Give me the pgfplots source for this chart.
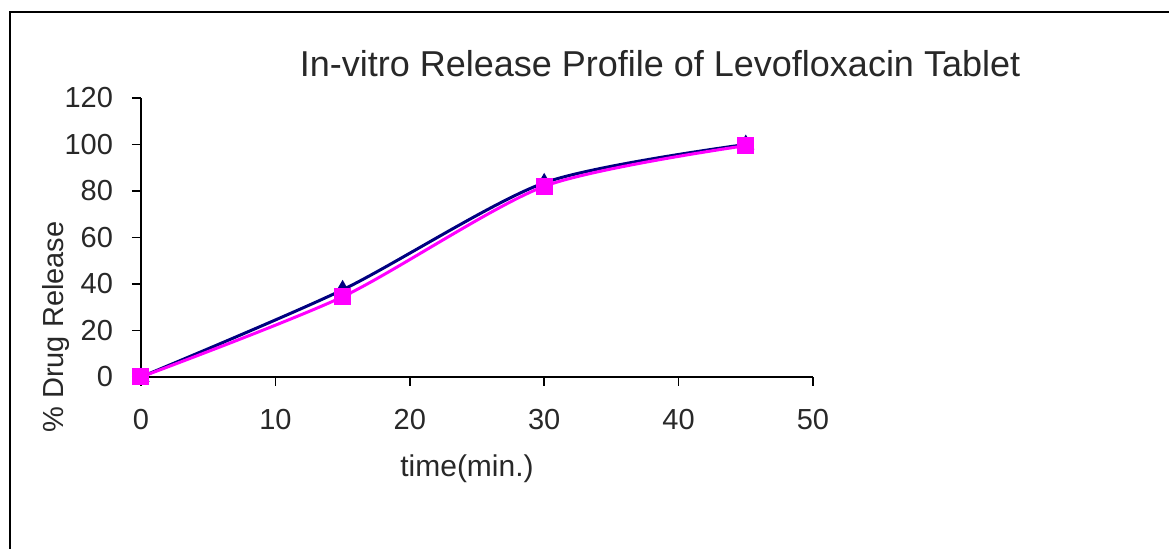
\documentclass[border=0pt]{standalone}
\usepackage{pgfplots}
\pgfplotsset{compat=1.18}
\usepackage{fontspec}
\setmainfont{Liberation Sans}
\definecolor{navyline}{RGB}{0,0,128}
\definecolor{magline}{RGB}{255,0,255}
\definecolor{txt}{RGB}{40,40,40}
\begin{document}
\begin{tikzpicture}[x=0.5pt,y=0.5pt]
\path[use as bounding box] (0,0) rectangle (1169,549);
\draw[line width=1pt] (10,0) -- (10,537) -- (1169,537);
\node[font=\fontsize{18}{21}\selectfont, text=txt] at (660,485) {In-vitro Release Profile of Levofloxacin Tablet};
\node[font=\fontsize{15}{17}\selectfont, text=txt] at (467,80) {time(min.)};
\node[font=\fontsize{14.5}{17}\selectfont, text=txt, rotate=90] at (56,222) {\% Drug Release};
\begin{axis}[
  at={(70.5pt,86pt)}, anchor=south west,
  scale only axis, width=336pt, height=139.5pt,
  xmin=0, xmax=50, ymin=0, ymax=120,
  xtick={0,10,...,50}, ytick={0,20,...,120},
  axis lines=left,
  x axis line style={-, line width=1.2pt},
  y axis line style={-, line width=0.8pt},
  tick align=outside,
  major tick length=4.5pt,
  every tick/.style={black, line width=0.8pt},
  tick label style={font=\fontsize{14.5}{17}\selectfont, text=txt},
  /pgf/number format/assume math mode=true,
  xticklabel style={yshift=-8pt},
  yticklabel style={xshift=-6pt},
  clip=false,
]
\addplot[navyline, line width=1.5pt, smooth, tension=0.45, mark=triangle*, mark size=3.5pt, mark options={solid}] coordinates {(0,0) (15,37.5) (30,83.5) (45,100)};
\addplot[magline, line width=1.5pt, smooth, tension=0.45, mark=square*, mark size=3.5pt, mark options={solid}] coordinates {(0,0) (15,34.5) (30,82) (45,99.5)};
\end{axis}
\end{tikzpicture}
\end{document}
